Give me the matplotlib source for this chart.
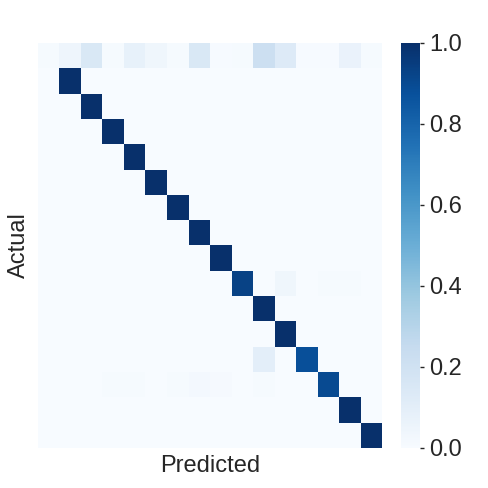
import numpy as np
import matplotlib
matplotlib.use("Agg")
import matplotlib.pyplot as plt
import seaborn as sns

# 16 classes, row-normalised confusion matrix
n_classes = 16
row0 = [0.01, 0.05, 0.15, 0.01, 0.08, 0.04, 0.01, 0.15,
        0.005, 0.01, 0.22, 0.13, 0.005, 0.005, 0.07, 0.01]
diag = [0.0, 1.0, 1.0, 1.0, 1.0, 1.0, 1.0, 1.0,
        1.0, 0.93, 1.0, 1.0, 0.88, 0.90, 1.0, 1.0]
# (row, col, value) off-diagonal entries
off_diag = [
    (9, 11, 0.04), (9, 13, 0.01), (9, 14, 0.01),
    (12, 10, 0.10),
    (13, 3, 0.01), (13, 4, 0.01), (13, 6, 0.01), (13, 7, 0.02),
    (13, 8, 0.015), (13, 10, 0.01),
]

cm = np.zeros((n_classes, n_classes))
cm[0] = row0
for i in range(1, n_classes):
    cm[i, i] = diag[i]
for r, c, v in off_diag:
    cm[r, c] = v

sns.set_style("white")
plt.rcParams['font.family'] = ['Liberation Sans', 'DejaVu Sans']
plt.rcParams['text.color'] = '#262626'
plt.rcParams['axes.labelcolor'] = '#262626'

fig = plt.figure(figsize=(4.89, 4.88), dpi=100)
ax = fig.add_axes([0.0777, 0.082, 0.7035, 0.830])
cax = fig.add_axes([0.820, 0.082, 0.039, 0.830])

sns.heatmap(cm, ax=ax, cbar_ax=cax, cmap="Blues", vmin=0, vmax=1,
            xticklabels=False, yticklabels=False)
ax.set_xlabel("Predicted", fontsize=17, labelpad=5)
ax.set_ylabel("Actual", fontsize=17, labelpad=6)

cax.tick_params(labelsize=17, length=3, width=1, color='#262626', colors='#262626')
cax.set_yticks([0, 0.2, 0.4, 0.6, 0.8, 1.0])
cax.set_yticklabels(["0.0", "0.2", "0.4", "0.6", "0.8", "1.0"])
for s in cax.spines.values():
    s.set_visible(False)

fig.savefig("out.png", dpi=100)
